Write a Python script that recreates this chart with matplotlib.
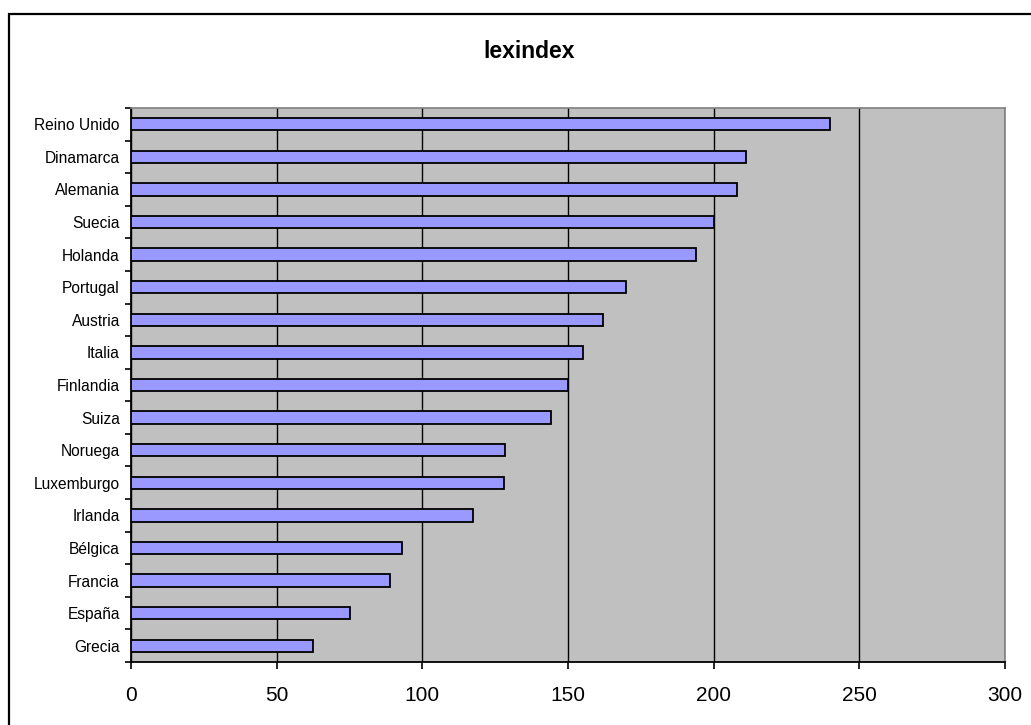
import matplotlib
matplotlib.use("Agg")
import matplotlib.pyplot as plt
from matplotlib.patches import Rectangle
import numpy as np

plt.rcParams['font.family'] = ['Liberation Sans', 'DejaVu Sans']

countries = ["Reino Unido", "Dinamarca", "Alemania", "Suecia", "Holanda",
             "Portugal", "Austria", "Italia", "Finlandia", "Suiza", "Noruega",
             "Luxemburgo", "Irlanda", "Bélgica", "Francia", "España", "Grecia"]
values = [240, 211, 208, 200, 194, 170, 162, 155, 150, 144, 128.5, 128,
          117.5, 93, 89, 75, 62.5]
xticks = [0, 50, 100, 150, 200, 250, 300]
title = "lexindex"

W, H = 1031, 725
fig = plt.figure(figsize=(W / 100, H / 100), dpi=100)
fig.patch.set_facecolor("white")

# outer chart frame
fig.patches.append(Rectangle((9 / W, 0 - 0.05), 1.1, 1 - 14 / H + 0.05,
                             transform=fig.transFigure, fill=False,
                             edgecolor="black", linewidth=1.6))

left, right, top, bottom = 131, 1005, 108, 662
ax = fig.add_axes([left / W, 1 - bottom / H, (right - left) / W, (bottom - top) / H])
ax.set_facecolor("#C0C0C0")

n = len(countries)
pos = np.arange(n)[::-1]
ax.barh(pos, values, height=0.38, color="#9999FF", edgecolor="black",
        linewidth=1.3, zorder=3)

ax.set_xlim(0, 300)
ax.set_ylim(-0.5, n - 0.5)
ax.set_xticks(xticks)
ax.set_xticklabels([str(t) for t in xticks], fontsize=15)
ax.xaxis.grid(True, color="black", linewidth=1.0, zorder=1)
ax.set_axisbelow(True)

ax.set_yticks(pos)
ax.set_yticklabels(countries, fontsize=11.2)
ax.set_yticks(np.arange(-0.5, n, 1.0), minor=True)
ax.tick_params(axis="y", which="major", length=0, pad=8)
ax.tick_params(axis="y", which="minor", length=4, width=1.2, direction="out")
ax.tick_params(axis="x", which="major", length=5, width=1.2, direction="out", pad=12)

for side in ("top", "right"):
    ax.spines[side].set_color("#808080")
    ax.spines[side].set_linewidth(1.2)
for side in ("left", "bottom"):
    ax.spines[side].set_color("black")
    ax.spines[side].set_linewidth(1.3)

fig.text(529 / W, 1 - 52 / H, title, ha="center", va="center",
         fontsize=16.5, fontweight="bold")

fig.savefig("out.png", dpi=100)
